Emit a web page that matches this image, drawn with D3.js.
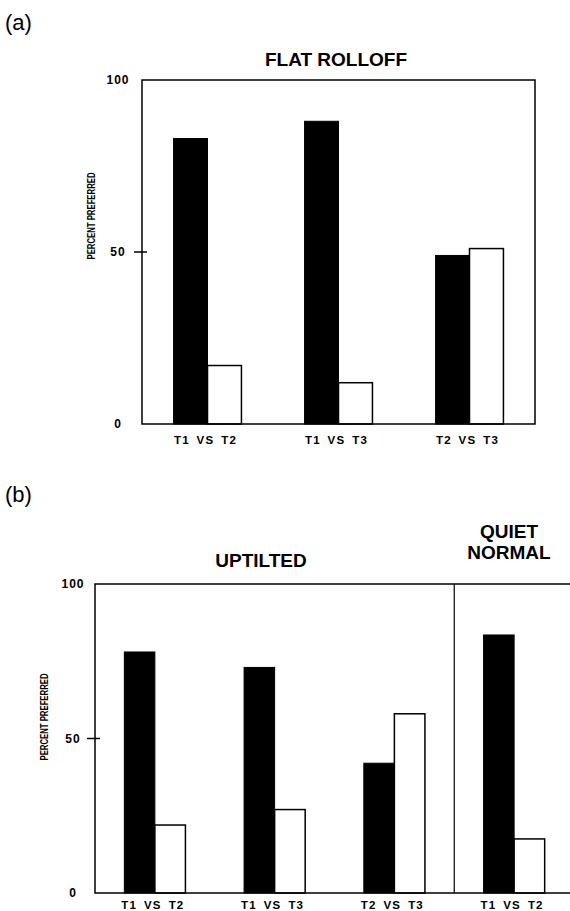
<!DOCTYPE html>
<html>
<head>
<meta charset="utf-8">
<script src="https://d3js.org/d3.v7.min.js"></script>
<style>
	body { margin: 0; background: #fff; }
	svg text { font-family: "Liberation Sans", Arial, sans-serif; fill: #000; }
	.frame { fill: none; stroke: #000; stroke-width: 1.5px; }
	.bar-first { fill: #000; stroke: #000; stroke-width: 1px; }
	.bar-second { fill: #fff; stroke: #000; stroke-width: 1.5px; }
	.tick-label { font-size: 12px; font-weight: bold; letter-spacing: 1px; }
	.cat-label { font-size: 11.5px; font-weight: bold; letter-spacing: 1.2px; word-spacing: 2.5px; }
	.axis-title { font-size: 10.5px; font-weight: bold; }
	.panel-title { font-size: 19px; font-weight: bold; }
	.panel-letter { font-size: 22px; }
</style>
</head>
<body>
<div id="chart"></div>
<script>
// panel (a) flat rolloff
var categoriesA = ["T1 VS T2", "T1 VS T3", "T2 VS T3"];
var firstA = [83, 88, 49];
var secondA = [17, 12, 51];

// panel (b) uptilted + quiet normal
var categoriesB = ["T1 VS T2", "T1 VS T3", "T2 VS T3", "T1 VS T2"];
var firstB = [78, 73, 42, 83.5];
var secondB = [22, 27, 58, 17.5];

var yTicks = [0, 50, 100];
var series = ["first", "second"];

var svg = d3.select("#chart")
	.append("svg")
	.attr("width", 570)
	.attr("height", 911);

function drawPanel(opt)
{
	var g = svg.append("g");
	var idx = d3.range(opt.categories.length);

	var x0 = d3.scaleBand()
		.domain(idx)
		.range([opt.left, opt.left + opt.step * idx.length]);
	var x1 = d3.scaleBand()
		.domain(series)
		.range([0, x0.bandwidth()])
		.paddingOuter(opt.barPad);
	var y = d3.scaleLinear()
		.domain([0, 100])
		.range([opt.bottom, opt.top]);

	var rows = idx.map(function (i) {
		return {i: i, first: opt.first[i], second: opt.second[i]};
	});

	var groups = g.selectAll(".group")
		.data(rows)
		.enter()
		.append("g")
		.attr("transform", function (d) { return "translate(" + x0(d.i) + ",0)"; });

	groups.selectAll("rect")
		.data(function (d) { return series.map(function (s) { return {key: s, value: d[s]}; }); })
		.enter()
		.append("rect")
		.attr("class", function (d) { return "bar-" + d.key; })
		.attr("x", function (d) { return x1(d.key); })
		.attr("width", x1.bandwidth())
		.attr("y", function (d) { return y(d.value); })
		.attr("height", function (d) { return y(0) - y(d.value); });

	// frame: left, top, bottom, right (or open end)
	var right = Math.min(opt.right, x0.range()[1]);
	g.append("path")
		.classed("frame", true)
		.attr("d", "M " + right + " " + y(100) + " L " + opt.left + " " + y(100) +
			" L " + opt.left + " " + y(0) + " L " + right + " " + y(0) +
			(opt.closed ? " Z" : ""));

	if (opt.divider !== undefined)
	{
		var dx = x0(opt.divider);
		g.append("line")
			.classed("frame", true)
			.attr("x1", dx).attr("x2", dx)
			.attr("y1", y(100)).attr("y2", y(0))
			.style("stroke-width", "1.2px");
	}

	// only the middle tick is drawn as a mark
	g.append("line")
		.classed("frame", true)
		.attr("x1", opt.left - 8).attr("x2", opt.left + 5)
		.attr("y1", y(50)).attr("y2", y(50));

	g.selectAll(".tick-label")
		.data(yTicks)
		.enter()
		.append("text")
		.classed("tick-label", true)
		.attr("x", opt.left - opt.tickOffset)
		.attr("y", function (d) { return y(d) + 4; })
		.attr("text-anchor", "middle")
		.text(function (d) { return d; });

	g.selectAll(".cat-label")
		.data(rows)
		.enter()
		.append("text")
		.classed("cat-label", true)
		.attr("x", function (d) { return x0(d.i) + x0.bandwidth() / 2 - 2; })
		.attr("y", opt.bottom + opt.labelDrop)
		.attr("text-anchor", "middle")
		.text(function (d) { return opt.categories[d.i]; });

	g.append("text")
		.classed("axis-title", true)
		.attr("transform", "translate(" + opt.titleX + "," + opt.titleY + ") rotate(-90)")
		.attr("text-anchor", "middle")
		.attr("textLength", 87)
		.attr("lengthAdjust", "spacingAndGlyphs")
		.text("PERCENT PREFERRED");

	return {x0: x0, y: y};
}

var a = drawPanel({
	categories: categoriesA, first: firstA, second: secondA,
	left: 142, step: 131, right: 535, top: 80, bottom: 424,
	barPad: 0.93, closed: true, tickOffset: 24, labelDrop: 20,
	titleX: 95, titleY: 216
});

var b = drawPanel({
	categories: categoriesB, first: firstB, second: secondB,
	left: 95, step: 119.75, right: 572, top: 584, bottom: 893,
	barPad: 0.96, closed: false, divider: 3, tickOffset: 22, labelDrop: 16,
	titleX: 48, titleY: 717
});

svg.append("text")
	.classed("panel-letter", true)
	.attr("x", 5).attr("y", 30)
	.text("(a)");

svg.append("text")
	.classed("panel-letter", true)
	.attr("x", 5).attr("y", 502)
	.text("(b)");

svg.append("text")
	.classed("panel-title", true)
	.attr("x", 336).attr("y", 66)
	.attr("text-anchor", "middle")
	.text("FLAT ROLLOFF");

svg.append("text")
	.classed("panel-title", true)
	.attr("x", 261).attr("y", 567)
	.attr("text-anchor", "middle")
	.text("UPTILTED");

var quiet = svg.append("text")
	.classed("panel-title", true)
	.attr("text-anchor", "middle");
quiet.append("tspan").attr("x", 509).attr("y", 538).text("QUIET");
quiet.append("tspan").attr("x", 509).attr("y", 559).text("NORMAL");
</script>
</body>
</html>
